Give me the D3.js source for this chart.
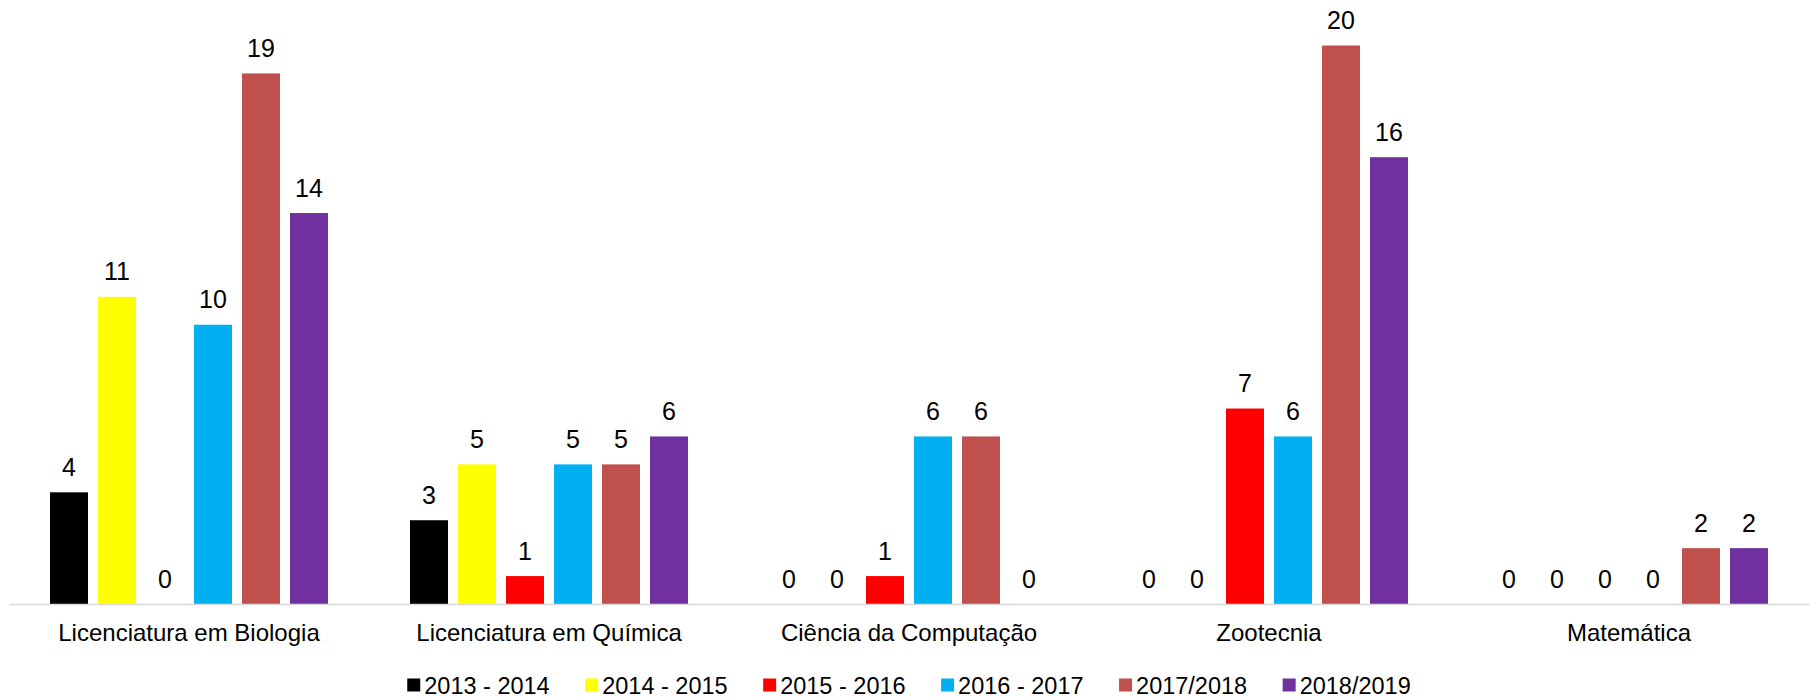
<!DOCTYPE html>
<html>
<head>
<meta charset="utf-8">
<script src="https://cdn.jsdelivr.net/npm/d3@7"></script>
<style>
  body { margin: 0; background: #fff; }
  svg { display: block; font-family: "Liberation Sans", Arial, sans-serif; }
</style>
</head>
<body>
<div id="chart"></div>
<script>
// categorias (cursos)
const cursos = ['Licenciatura em Biologia', 'Licenciatura em Química', 'Ciência da Computação', 'Zootecnia', 'Matemática'];
// séries (períodos)
const periodos = ['2013 - 2014', '2014 - 2015', '2015 - 2016', '2016 - 2017', '2017/2018', '2018/2019'];
const cores = ['#000000', '#FFFF00', '#FF0000', '#00B0F0', '#C0504D', '#7030A0'];
// valores por período, na ordem dos cursos
const v2013 = [4, 3, 0, 0, 0];
const v2014 = [11, 5, 0, 0, 0];
const v2015 = [0, 1, 1, 7, 0];
const v2016 = [10, 5, 6, 6, 0];
const v2017 = [19, 5, 6, 20, 2];
const v2018 = [14, 6, 0, 16, 2];
const valores = [v2013, v2014, v2015, v2016, v2017, v2018];

const width = 1818;
const height = 698;
const margin = { left: 9, right: 9, top: 45.5, baseline: 604 };

const svg = d3.select('#chart')
  .append('svg')
  .attr('width', width)
  .attr('height', height);

const x0 = d3.scaleBand()
  .domain(cursos)
  .range([margin.left, width - margin.right])
  .padding(0);

// 6 barras de 38px com passo de 48px dentro de cada grupo
const pInner = 10 / 48;
const pOuter = (x0.bandwidth() / 48 - periodos.length + pInner) / 2;
const x1 = d3.scaleBand()
  .domain(periodos)
  .range([0, x0.bandwidth()])
  .paddingInner(pInner)
  .paddingOuter(pOuter);

const y = d3.scaleLinear()
  .domain([0, 20])
  .range([margin.baseline, margin.top]);

const dados = [];
cursos.forEach((c, i) => {
  periodos.forEach((p, j) => {
    dados.push({ curso: c, periodo: p, valor: valores[j][i], cor: cores[j] });
  });
});

// barras
svg.append('g')
  .selectAll('rect')
  .data(dados.filter(d => d.valor > 0))
  .enter()
  .append('rect')
  .attr('x', d => x0(d.curso) + x1(d.periodo))
  .attr('y', d => y(d.valor))
  .attr('width', x1.bandwidth())
  .attr('height', d => y(0) - y(d.valor))
  .attr('fill', d => d.cor);

// rótulos de valor
svg.append('g')
  .selectAll('text')
  .data(dados)
  .enter()
  .append('text')
  .attr('x', d => x0(d.curso) + x1(d.periodo) + x1.bandwidth() / 2)
  .attr('y', d => y(d.valor) - 16.5)
  .attr('text-anchor', 'middle')
  .style('font-size', '25px')
  .style('fill', '#000')
  .text(d => d.valor);

// eixo x
const eixo = svg.append('g')
  .attr('transform', `translate(0,${y(0)})`)
  .call(d3.axisBottom(x0).tickSize(0).tickSizeOuter(0));

eixo.select('.domain')
  .attr('stroke', '#D9D9D9')
  .attr('stroke-width', 1.5);

eixo.selectAll('text')
  .attr('y', 37)
  .attr('dy', null)
  .style('font-size', '24px')
  .style('font-family', '"Liberation Sans", Arial, sans-serif')
  .style('fill', '#000');

// legenda
const legenda = svg.append('g');
const itens = legenda.selectAll('g')
  .data(periodos)
  .enter()
  .append('g');

itens.append('rect')
  .attr('width', 13)
  .attr('height', 13)
  .attr('y', -6.5)
  .attr('fill', (d, i) => cores[i]);

itens.append('text')
  .attr('x', 17)
  .attr('y', 8.5)
  .style('font-size', '23.5px')
  .style('fill', '#000')
  .text(d => d);

let pos = 0;
itens.each(function () {
  const g = d3.select(this);
  g.attr('transform', `translate(${pos},0)`);
  const w = 17 + g.select('text').node().getComputedTextLength();
  pos += w + 35.5;
});
const total = pos - 35.5;
legenda.attr('transform', `translate(${(width - total) / 2},685)`);
</script>
</body>
</html>
